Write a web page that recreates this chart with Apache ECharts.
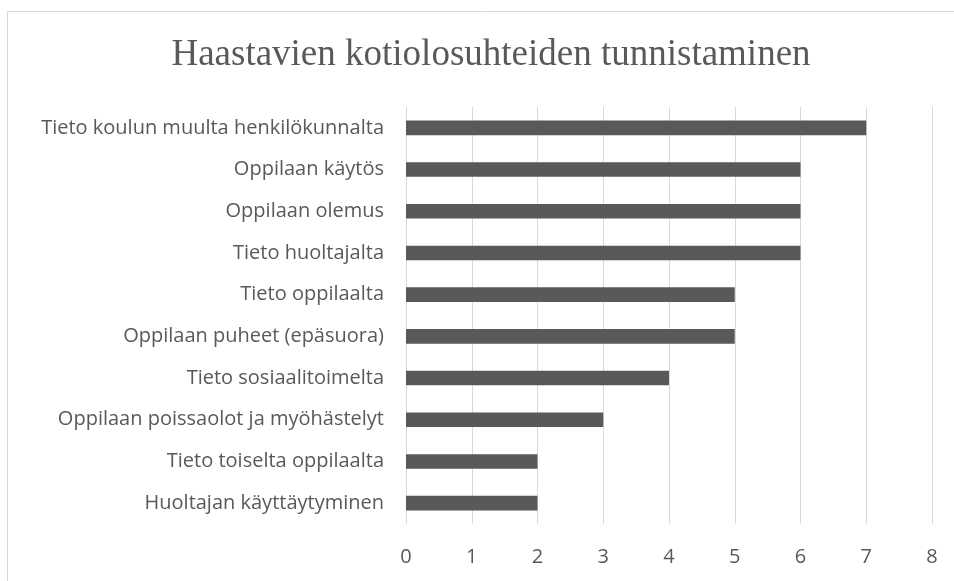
<!DOCTYPE html>
<html><head><meta charset="utf-8">
<script src="https://cdn.jsdelivr.net/npm/echarts@6/dist/echarts.min.js"></script>
<style>html,body{margin:0;padding:0;background:#fff}#c{width:954px;height:581px}</style>
</head><body><div id="c"></div>
<script>
const titleText = 'Haastavien kotiolosuhteiden tunnistaminen';
const categories = [
  'Tieto koulun muulta henkilökunnalta',
  'Oppilaan käytös',
  'Oppilaan olemus',
  'Tieto huoltajalta',
  'Tieto oppilaalta',
  'Oppilaan puheet (epäsuora)',
  'Tieto sosiaalitoimelta',
  'Oppilaan poissaolot ja myöhästelyt',
  'Tieto toiselta oppilaalta',
  'Huoltajan käyttäytyminen'
];
const values = [7, 6, 6, 6, 5, 5, 4, 3, 2, 2];
const xTicks = [0, 1, 2, 3, 4, 5, 6, 7, 8];

const chart = echarts.init(document.getElementById('c'), null, {renderer: 'canvas'});
chart.setOption({
  animation: false,
  backgroundColor: '#fff',
  graphic: [{type: 'rect', shape: {x: 7.5, y: 11.5, width: 1000, height: 700},
    style: {fill: 'none', stroke: '#d9d9d9', lineWidth: 1}, silent: true}],
  title: {text: titleText, left: 486, top: 32, textAlign: 'center',
    textStyle: {fontFamily: 'Liberation Serif', fontSize: 37, fontWeight: 'normal', color: '#595959'}},
  grid: {left: 406, right: 22, top: 107, bottom: 57, containLabel: false},
  xAxis: {type: 'value', min: xTicks[0], max: xTicks[xTicks.length - 1], interval: 1,
    axisLine: {show: false}, axisTick: {show: false},
    splitLine: {show: true, lineStyle: {color: '#d9d9d9', width: 1}},
    axisLabel: {color: '#595959', fontSize: 20, fontFamily: 'Open Sans', margin: 23}},
  yAxis: {type: 'category', data: categories, inverse: true,
    axisLine: {show: false}, axisTick: {show: false},
    axisLabel: {color: '#595959', fontSize: 20, fontFamily: 'Open Sans', margin: 22}},
  series: [{type: 'bar', data: values, barWidth: '35%',
    itemStyle: {color: '#595959'}}]
});
</script></body></html>
